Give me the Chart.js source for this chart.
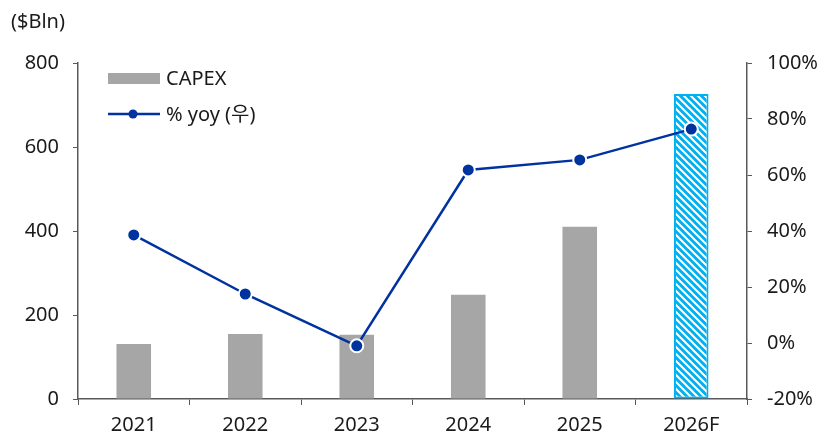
<!DOCTYPE html>
<html>
<head>
<meta charset="utf-8">
<script src="https://cdn.jsdelivr.net/npm/chart.js@4"></script>
<style>
  html, body { margin: 0; padding: 0; background: #fff; }
  #wrap { width: 832px; height: 438px; }
</style>
</head>
<body>
<div id="wrap"><canvas id="miGrafica" width="832" height="438"></canvas></div>
<script>
const categories = ["2021", "2022", "2023", "2024", "2025", "2026F"];
const capex = [131, 155, 153, 248, 410, 726];
const yoy = [38.6, 17.5, -1.0, 61.8, 65.4, 76.4];
const leftTicks = [0, 200, 400, 600, 800];
const rightTicks = [-20, 0, 20, 40, 60, 80, 100];

const FONT = "'Noto Sans', 'Noto Sans CJK KR', sans-serif";
const GRAY = "#A6A6A6";
const BLUE = "#0033A0";
const SKY = "#00B0F0";
const AXIS = "#595959";
const TXT = "#1a1a1a";

// hatch for the forecast bar
function hatch() {
    const c = document.createElement("canvas");
    c.width = 7; c.height = 7;
    const g = c.getContext("2d");
    g.fillStyle = SKY;
    g.fillRect(0, 0, 7, 7);
    g.strokeStyle = "#fff";
    g.lineWidth = 2;
    g.beginPath();
    g.moveTo(-1, -1); g.lineTo(8, 8);
    g.moveTo(-5, 2); g.lineTo(5, 12);
    g.moveTo(2, -5); g.lineTo(12, 5);
    g.stroke();
    return g.createPattern(c, "repeat");
}

const barColors = capex.map((v, i) => i === capex.length - 1 ? hatch() : GRAY);
const barBorders = capex.map((v, i) => i === capex.length - 1 ? 2 : 0);

// unit label and legend drawn on the canvas
const extras = {
    id: "extras",
    afterDraw(chart) {
        const ctx = chart.ctx;
        ctx.save();
        ctx.font = "20px " + FONT;
        ctx.fillStyle = TXT;
        ctx.textBaseline = "middle";
        ctx.textAlign = "left";
        ctx.fillText("($Bln)", 11, 22);

        const ds = chart.data.datasets;
        ctx.fillStyle = GRAY;
        ctx.fillRect(108, 73, 52, 11);
        ctx.fillStyle = TXT;
        ctx.fillText(ds[0].label, 166, 79);

        ctx.strokeStyle = BLUE;
        ctx.lineWidth = 2.5;
        ctx.beginPath();
        ctx.moveTo(108, 114); ctx.lineTo(160, 114);
        ctx.stroke();
        ctx.fillStyle = BLUE;
        ctx.beginPath();
        ctx.arc(133, 114, 4.5, 0, Math.PI * 2);
        ctx.fill();
        ctx.fillStyle = TXT;
        ctx.fillText(ds[1].label, 166, 115);
        ctx.restore();
    }
};

let miGrafica = document.getElementById("miGrafica").getContext("2d");

var chart = new Chart(miGrafica, {
    type: "bar",
    data: {
        labels: categories,
        datasets: [
            {
                label: "CAPEX",
                data: capex,
                backgroundColor: barColors,
                borderColor: SKY,
                borderWidth: barBorders,
                borderSkipped: false,
                barPercentage: 0.31,
                categoryPercentage: 1,
                yAxisID: "y",
                order: 2
            },
            {
                type: "line",
                label: "% yoy (우)",
                data: yoy,
                borderColor: BLUE,
                backgroundColor: BLUE,
                borderWidth: 2.5,
                pointRadius: 6.5,
                pointBackgroundColor: BLUE,
                pointBorderColor: "#fff",
                pointBorderWidth: 2,
                tension: 0,
                yAxisID: "y1",
                order: 1
            }
        ]
    },
    options: {
        responsive: false,
        animation: false,
        layout: { padding: { top: 63, left: 0, right: 0, bottom: 0 } },
        plugins: {
            legend: { display: false },
            tooltip: { enabled: false }
        },
        scales: {
            x: {
                offset: true,
                grid: { drawOnChartArea: false, drawTicks: true, tickLength: 6, color: AXIS, offset: true },
                border: { color: AXIS, width: 1.5 },
                ticks: { color: TXT, font: { family: FONT, size: 20 }, padding: 8 },
                afterFit(s) { s.height = 39; }
            },
            y: {
                position: "left",
                min: 0, max: 800,
                afterBuildTicks(s) { s.ticks = leftTicks.map(v => ({ value: v })); },
                grid: { drawOnChartArea: false, drawTicks: true, tickLength: 5, color: AXIS },
                border: { color: AXIS, width: 1.5 },
                ticks: { color: TXT, font: { family: FONT, size: 20 }, padding: 14 },
                afterFit(s) { s.width = 78; }
            },
            y1: {
                position: "right",
                min: -20, max: 100,
                afterBuildTicks(s) { s.ticks = rightTicks.map(v => ({ value: v })); },
                grid: { drawOnChartArea: false, drawTicks: true, tickLength: 5, color: AXIS },
                border: { color: AXIS, width: 1.5 },
                ticks: { color: TXT, font: { family: FONT, size: 20 }, padding: 15, callback: v => v + "%" },
                afterFit(s) { s.width = 85; }
            }
        }
    },
    plugins: [extras]
});
</script>
</body>
</html>
